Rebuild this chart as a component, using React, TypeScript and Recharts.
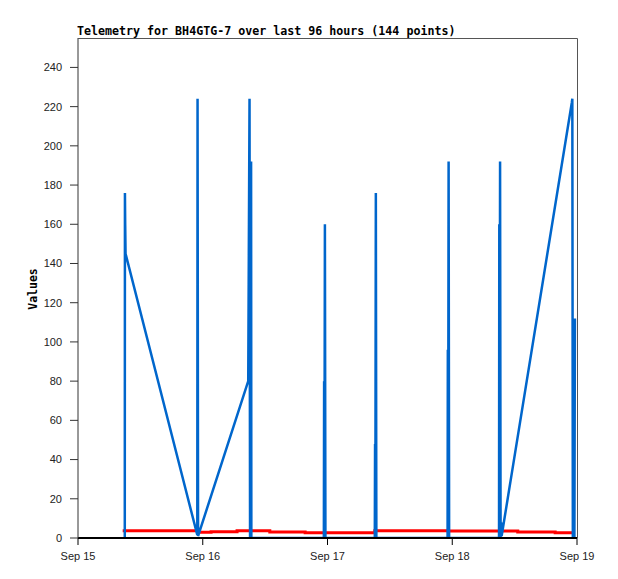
import { LineChart, Line, XAxis, YAxis } from "recharts";

// hours since Sep 15 00:00
const X_TICKS = [0, 24, 48, 72, 96];
const X_LABELS = ["Sep 15", "Sep 16", "Sep 17", "Sep 18", "Sep 19"];
const Y_TICKS = [0, 20, 40, 60, 80, 100, 120, 140, 160, 180, 200, 220, 240];

const BLUE_HOURS = [
  9.0, 9.03, 9.08, 9.15,
  22.95, 23.0, 23.1,
  32.75, 33.0, 33.1, 33.3, 33.35,
  47.3, 47.35, 47.4, 47.5, 47.6,
  57.1, 57.15, 57.2, 57.3, 57.4,
  71.1, 71.15, 71.2, 71.3, 71.4,
  81.0, 81.05, 81.1, 81.2, 81.3, 81.4, 81.5,
  95.0, 95.1, 95.2, 95.5, 95.6,
];
const BLUE_VALUES = [
  0, 176, 160, 145,
  1.5, 224, 1,
  80, 224, 0, 192, 0,
  0, 80, 0, 160, 0,
  0, 48, 0, 176, 0,
  0, 96, 0, 192, 0,
  0, 160, 0, 192, 0, 8, 1,
  222, 224, 0, 0, 112,
];

const RED_HOURS = [8.6, 23.0, 25.6, 30.6, 36.9, 43.7, 57.1, 71.2, 84.6, 91.8, 95.6];
const RED_VALUES = [3.7, 2.9, 3.2, 3.7, 3.1, 2.7, 3.7, 3.6, 3.1, 2.7, 2.7];

const BLACK_HOURS = [0, 96];
const BLACK_VALUES = [0, 0];

const toRows = (hs: number[], vs: number[]) => hs.map((h, i) => ({ h, v: vs[i] }));

const blueData = toRows(BLUE_HOURS, BLUE_VALUES);
const redData = toRows(RED_HOURS, RED_VALUES);
const blackData = toRows(BLACK_HOURS, BLACK_VALUES);

const tickFont = { fill: "#222", fontSize: 11, fontFamily: "'Liberation Sans', Arial, sans-serif" };

export default function App() {
  return (
    <div style={{ position: "absolute", left: 0, top: 0, width: 618, height: 579, background: "#fff" }}>
      <LineChart width={618} height={579} margin={{ top: 38, right: 41, bottom: 0, left: 0 }}>
        <XAxis
          dataKey="h"
          type="number"
          domain={[0, 96]}
          ticks={X_TICKS}
          tickFormatter={(v: number) => X_LABELS[X_TICKS.indexOf(v)] ?? ""}
          height={41}
          tickSize={7}
          tickMargin={7}
          tick={tickFont}
          axisLine={{ stroke: "#000", strokeWidth: 2 }}
          tickLine={{ stroke: "#000" }}
          allowDataOverflow
        />
        <YAxis
          type="number"
          domain={[0, 255]}
          ticks={Y_TICKS}
          width={78}
          tickSize={8}
          tickMargin={8}
          tick={tickFont}
          axisLine={{ stroke: "#333" }}
          tickLine={{ stroke: "#333" }}
          allowDataOverflow
        />
        <Line data={redData} dataKey="v" type="stepAfter" stroke="#ff0000" strokeWidth={3} dot={false} isAnimationActive={false} />
        <Line data={blueData} dataKey="v" type="linear" stroke="#0066cc" strokeWidth={2.5} dot={false} isAnimationActive={false} />
        <Line data={blackData} dataKey="v" type="linear" stroke="#000" strokeWidth={2} dot={false} isAnimationActive={false} />
      </LineChart>
      <svg width={618} height={579} style={{ position: "absolute", left: 0, top: 0, pointerEvents: "none" }}>
        {/* plot frame: top and right edges */}
        <path d="M78 38.5 H577.5 V538" fill="none" stroke="#555" strokeWidth={1} />
        <text x={77} y={34.5} fontFamily="'DejaVu Sans Mono', monospace" fontWeight="bold" fontSize={11.65} fill="#000">
          Telemetry for BH4GTG-7 over last 96 hours (144 points)
        </text>
        <text
          x={0}
          y={0}
          transform="translate(36.5 289) rotate(-90)"
          textAnchor="middle"
          fontFamily="'DejaVu Sans Mono', monospace"
          fontWeight="bold"
          fontSize={11.5}
          fill="#000"
        >
          Values
        </text>
      </svg>
    </div>
  );
}
